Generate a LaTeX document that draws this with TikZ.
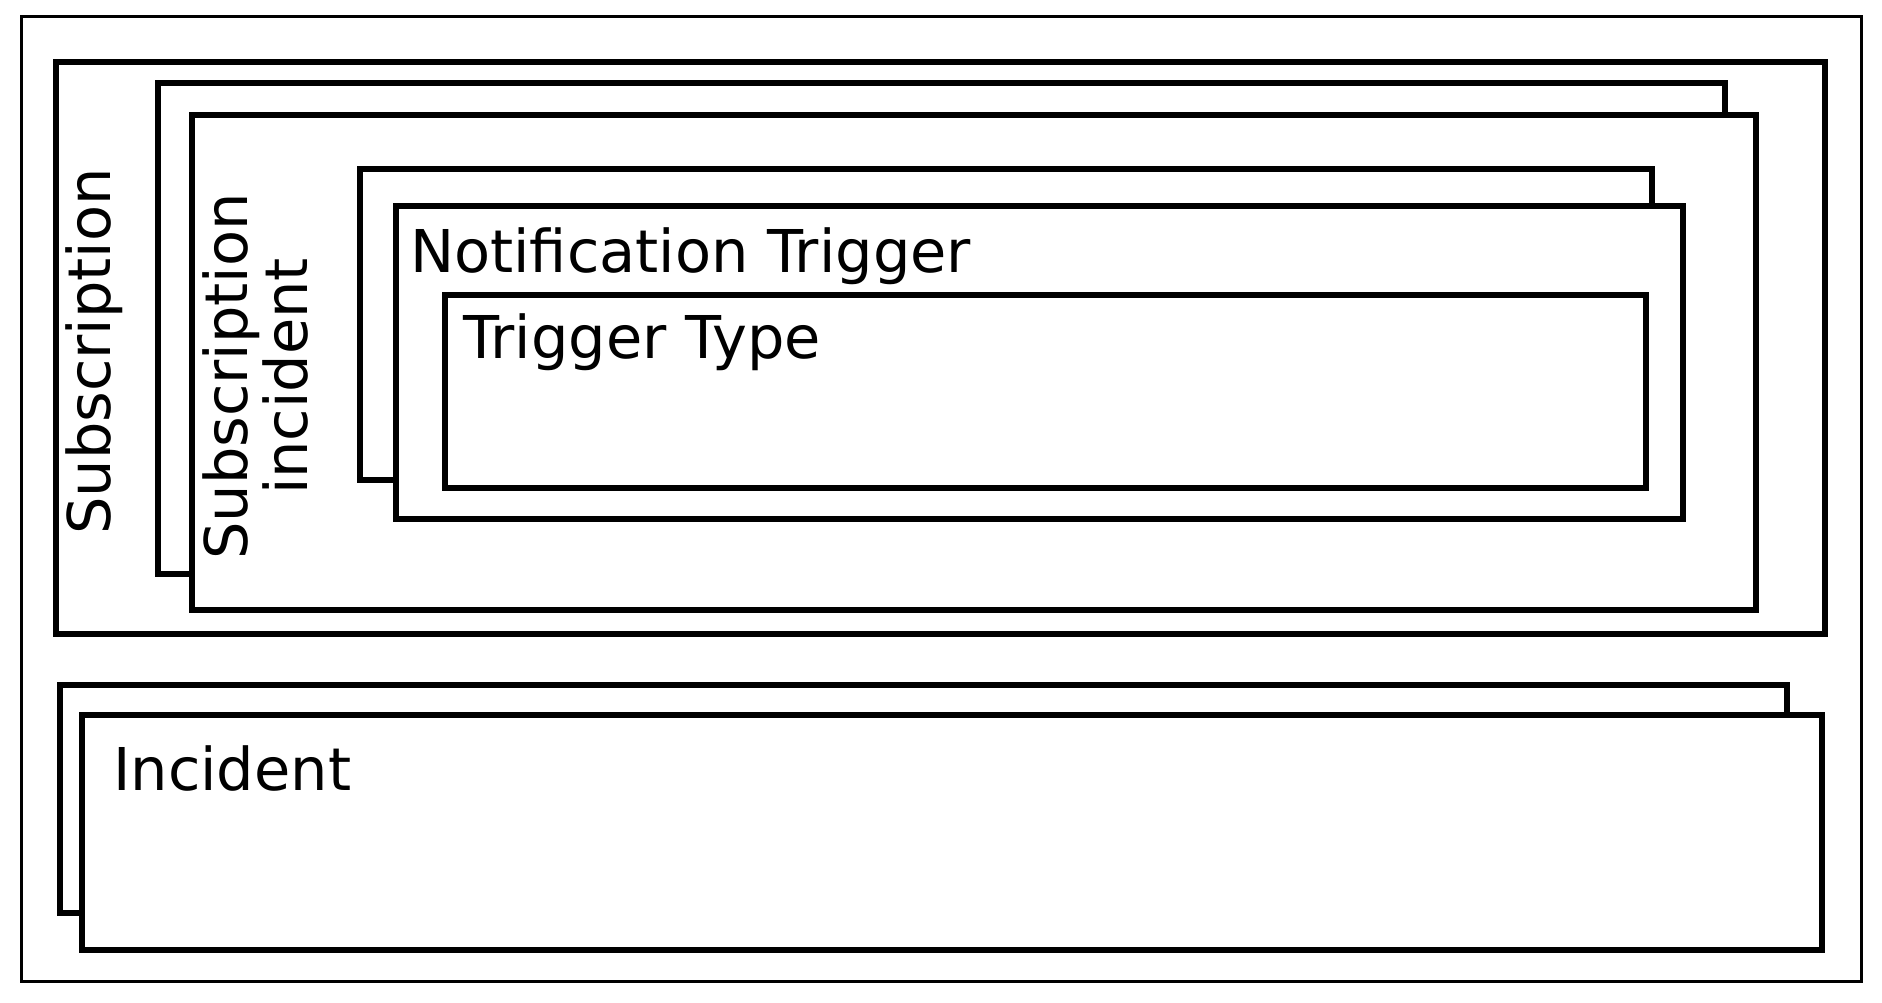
\documentclass[tikz,border=0pt]{standalone}
\usepackage{fontspec}
\setmainfont{DejaVu Sans}
\begin{document}
\begin{tikzpicture}[x=1pt, y=-1pt,
    frame/.style={draw, line width=6pt, fill=white},
    label/.style={inner sep=0pt, font=\fontsize{59}{60}\selectfont}]
\useasboundingbox (0,0) rectangle (1882,1003);
% Outer border
\draw[line width=3pt] (21,16.5) rectangle (1861.5,981.5);

% Subscription
\draw[frame] (56,62) rectangle (1824.5,634);
\node[label, rotate=90, anchor=base] (sub) at (110,351.5) {Subscription};

% Subscription incident (stacked)
\draw[frame] (158,83) rectangle (1725,573.5);
\draw[frame] (192,115) rectangle (1756,610);
\node[label, rotate=90, align=center] (subinc) at (256,376.5) {Subscription\\incident};

% Notification Trigger (stacked)
\draw[frame] (359.5,169.5) rectangle (1652,480);
\draw[frame] (396,206) rectangle (1682.5,519);
\node[label, anchor=base west] (notif) at (410,272) {Notification Trigger};

% Trigger Type
\draw[frame] (445,295) rectangle (1646,488);
\node[label, anchor=base west] (ttype) at (463,358) {Trigger Type};

% Incident (stacked)
\draw[frame] (59.5,684.5) rectangle (1787,913);
\draw[frame] (81.5,715) rectangle (1821.5,950);
\node[label, anchor=base west] (inc) at (113,790) {Incident};
\end{tikzpicture}
\end{document}
